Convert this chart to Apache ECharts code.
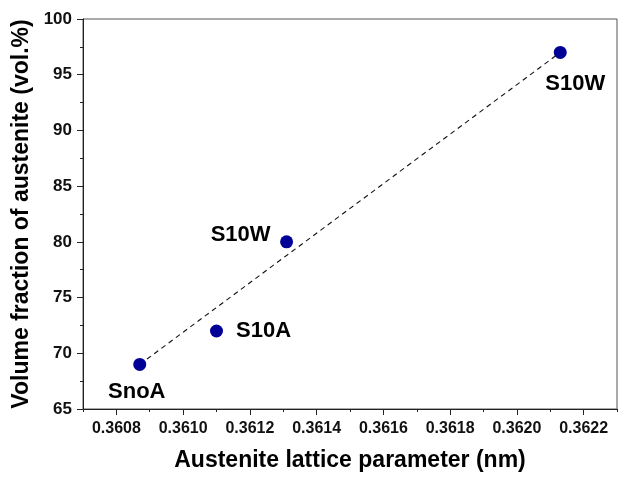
<!DOCTYPE html>
<html>
<head>
<meta charset="utf-8">
<script src="https://cdn.jsdelivr.net/npm/echarts@6/dist/echarts.min.js"></script>
<style>
  html, body { margin: 0; padding: 0; background: #fff; }
  #main { width: 622px; height: 477px; }
</style>
</head>
<body>
<div id="main"></div>
<script>
// sample names and measured values
const names = ['SnoA', 'S10A', 'S10W', 'S10W']
const latticeParam = [0.36087, 0.36110, 0.36131, 0.36213]
const austeniteFrac = [69, 72, 80, 97]
// dashed guide line end points
const fitX = [0.36087, 0.36213]
const fitY = [69, 97]
// label offsets (px) relative to point centre
const labelOffsets = [[-3, 28], [47, 0], [-46, -7], [15, 32]]
// axis ranges / ticks
const xRange = [0.3607, 0.3623]
const xStep = 0.0001
const yRange = [65, 100]
const yStep = 5

const font = "'Liberation Sans', Arial, sans-serif"
const xMajorTicks = []
for (let i = 0; i <= Math.round((xRange[1] - xRange[0]) / xStep); i++) {
  xMajorTicks.push((xRange[0] + i * xStep).toFixed(4))
}

const myChart = echarts.init(document.getElementById('main'))
const option = {
  animation: false,
  backgroundColor: '#fff',
  grid: {
    left: 83,
    right: 5,
    top: 19,
    bottom: 66,
    show: true,
    borderColor: '#555',
    borderWidth: 1
  },
  xAxis: [
    {
      type: 'value',
      min: xRange[0],
      max: xRange[1],
      interval: xStep,
      name: 'Austenite lattice parameter (nm)',
      nameLocation: 'middle',
      nameGap: 40,
      nameTextStyle: { fontFamily: font, fontWeight: 'bold', fontSize: 23, color: '#000' },
      axisLine: { lineStyle: { color: '#222', width: 1 } },
      axisTick: { inside: false, length: 3, lineStyle: { color: '#222' } },
      axisLabel: {
        margin: 12,
        fontFamily: font,
        fontWeight: 'bold',
        fontSize: 16,
        color: '#111',
        formatter: function (v) {
          return Math.round(v * 10000) % 2 === 0 && v > xRange[0] + 1e-9 && v < xRange[1] - 1e-9 ? v.toFixed(4) : ''
        }
      },
      splitLine: { show: false }
    },
    {
      // longer ticks at the labelled values
      type: 'category',
      position: 'bottom',
      boundaryGap: false,
      data: xMajorTicks,
      axisLine: { show: false },
      axisTick: {
        length: 6,
        interval: function (index) { return index % 2 === 1 },
        lineStyle: { color: '#222' }
      },
      axisLabel: { show: false },
      splitLine: { show: false }
    }
  ],
  yAxis: {
    type: 'value',
    min: yRange[0],
    max: yRange[1],
    interval: yStep,
    name: 'Volume fraction of austenite (vol.%)',
    nameLocation: 'middle',
    nameGap: 46,
    nameTextStyle: { fontFamily: font, fontWeight: 'bold', fontSize: 23, color: '#000' },
    axisLine: { show: true, lineStyle: { color: '#222', width: 1 } },
    axisTick: { show: true, length: 6, lineStyle: { color: '#222' } },
    minorTick: { show: true, splitNumber: 2, length: 3, lineStyle: { color: '#222' } },
    axisLabel: { margin: 11, fontFamily: font, fontWeight: 'bold', fontSize: 17, color: '#111' },
    splitLine: { show: false }
  },
  series: [
    {
      type: 'line',
      xAxisIndex: 0,
      data: fitX.map((x, i) => [x, fitY[i]]),
      symbol: 'none',
      lineStyle: { color: '#111', width: 1.1, type: [5, 4] },
      z: 1
    },
    {
      type: 'scatter',
      xAxisIndex: 0,
      symbolSize: 13,
      itemStyle: { color: '#000096', opacity: 1 },
      data: latticeParam.map((x, i) => ({
        value: [x, austeniteFrac[i]],
        label: {
          show: true,
          position: 'inside',
          offset: labelOffsets[i],
          formatter: names[i],
          fontFamily: font,
          fontWeight: 'bold',
          fontSize: 22,
          color: '#000'
        }
      })),
      z: 2
    }
  ]
}
myChart.setOption(option)
</script>
</body>
</html>
